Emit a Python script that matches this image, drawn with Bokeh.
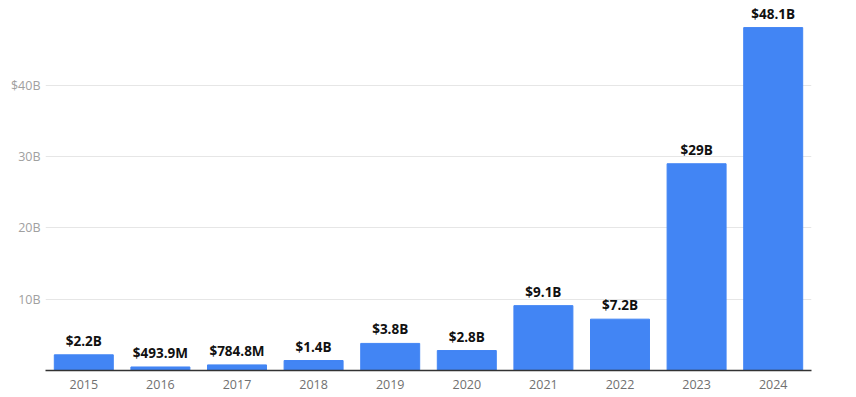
from bokeh.plotting import figure
from bokeh.models import ColumnDataSource, FixedTicker, Range1d
from bokeh.core.properties import value
from bokeh.embed import file_html
from bokeh.resources import INLINE

years = ["2015", "2016", "2017", "2018", "2019", "2020", "2021", "2022", "2023", "2024"]
values_b = [2.2, 0.4939, 0.7848, 1.4, 3.8, 2.8, 9.1, 7.2, 29.0, 48.1]
labels = ["$2.2B", "$493.9M", "$784.8M", "$1.4B", "$3.8B", "$2.8B", "$9.1B", "$7.2B", "$29B", "$48.1B"]
y_ticks = [10, 20, 30, 40]
y_tick_labels = {10: "10B", 20: "20B", 30: "30B", 40: "$40B"}

src = ColumnDataSource(dict(x=years, top=values_b, label=labels))

p = figure(x_range=years, y_range=Range1d(0, 51.9), width=840, height=391,
           output_backend="svg", toolbar_location=None,
           min_border_left=45, min_border_right=29, min_border_top=0, min_border_bottom=19)
p.outline_line_color = None
p.background_fill_color = "white"

p.vbar(x="x", top="top", bottom=0, width=0.77, source=src, color="#4285F4")
p.text(x="x", y="top", text="label", source=src, text_align="center", text_baseline="bottom",
       y_offset=-5, text_font=value("Open Sans"), text_font_style="bold",
       text_font_size="13.5px", text_color="#111111")

p.yaxis.ticker = FixedTicker(ticks=y_ticks)
p.yaxis.major_label_overrides = y_tick_labels
p.yaxis.axis_line_color = None
p.yaxis.major_tick_line_color = None
p.yaxis.minor_tick_line_color = None
p.yaxis.major_tick_out = 0
p.yaxis.major_tick_in = 0
p.yaxis.major_label_text_color = "#a0a0a0"
p.yaxis.major_label_text_font = "Open Sans"
p.yaxis.major_label_text_font_size = "12.5px"
p.yaxis.major_label_standoff = 5

p.xaxis.axis_line_color = "#333333"
p.xaxis.axis_line_width = 1.3
p.xaxis.major_tick_line_color = None
p.xaxis.minor_tick_line_color = None
p.xaxis.major_tick_out = 0
p.xaxis.major_tick_in = 0
p.xaxis.major_label_text_color = "#707070"
p.xaxis.major_label_text_font = "Open Sans"
p.xaxis.major_label_text_font_size = "12.5px"
p.xaxis.major_label_standoff = 9

p.xgrid.grid_line_color = None
p.ygrid.grid_line_color = "#e6e6e6"
p.ygrid.grid_line_width = 1

open("out.html", "w").write(file_html(p, INLINE))
